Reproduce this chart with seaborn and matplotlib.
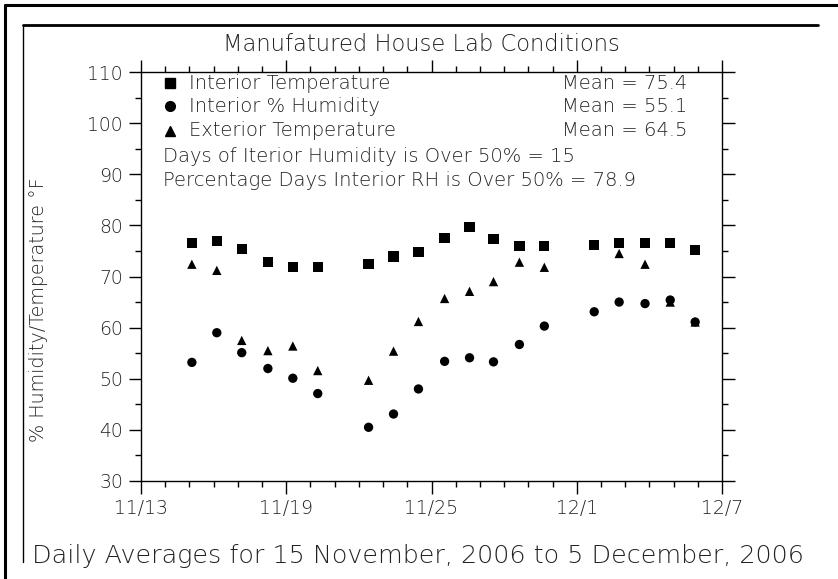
import matplotlib
matplotlib.use("Agg")
import matplotlib.pyplot as plt
import pandas as pd
import seaborn as sns
from matplotlib.lines import Line2D
from matplotlib.ticker import MultipleLocator

# days counted from 11/13
days = [2.10, 3.13, 4.16, 5.24, 6.27, 7.30, 9.40, 10.43, 11.46, 12.54,
        13.57, 14.56, 15.63, 16.66, 18.72, 19.75, 20.82, 21.86, 22.89]
interior_temp = [76.5, 77.0, 75.4, 72.9, 71.9, 71.8, 72.5, 73.9, 74.8, 77.6,
                 79.7, 77.4, 76.0, 76.0, 76.1, 76.6, 76.5, 76.5, 75.2]
interior_rh = [53.2, 59.0, 55.1, 52.0, 50.1, 47.1, 40.5, 43.1, 48.0, 53.4,
               54.1, 53.3, 56.7, 60.3, 63.1, 65.0, 64.7, 65.4, 61.1]
exterior_temp = [72.4, 71.2, 57.5, 55.5, 56.4, 51.6, 49.7, 55.4, 61.2, 65.7,
                 67.1, 69.0, 72.8, 71.8, 76.1, 74.5, 72.4, 65.0, 61.1]

xtick_pos = [0, 6, 12, 18, 24]
xtick_labels = ["11/13", "11/19", "11/25", "12/1", "12/7"]

series_names = ["Interior Temperature", "Interior % Humidity", "Exterior Temperature"]
series_means = ["Mean = 75.4", "Mean = 55.1", "Mean = 64.5"]
extra_lines = ["Days of Iterior Humidity is Over 50% = 15",
               "Percentage Days Interior RH is Over 50% = 78.9"]

df = pd.DataFrame({
    "day": days * 3,
    "value": interior_temp + interior_rh + exterior_temp,
    "series": [series_names[0]] * len(days) + [series_names[1]] * len(days)
              + [series_names[2]] * len(days),
})

sns.set_style("ticks")
plt.rcParams["font.family"] = ["DejaVu Sans"]

fig = plt.figure(figsize=(8.38, 5.79), dpi=100)
ax = fig.add_axes([0.1683, 0.1693, 0.6933, 0.7063])

markers = {series_names[0]: "s", series_names[1]: "o", series_names[2]: "^"}
sizes = {series_names[0]: 55, series_names[1]: 45, series_names[2]: 45}
for name in series_names:
    sns.scatterplot(data=df[df["series"] == name], x="day", y="value",
                    marker=markers[name], s=sizes[name], color="black",
                    edgecolor="none", legend=False, ax=ax, clip_on=False)

ax.set_xlim(0, 24)
ax.set_ylim(30, 110)
ax.set_xticks(xtick_pos, xtick_labels)
ax.xaxis.set_minor_locator(MultipleLocator(1))
ax.yaxis.set_major_locator(MultipleLocator(10))
ax.yaxis.set_minor_locator(MultipleLocator(5))
ax.tick_params(which="both", direction="out", top=True, right=True,
               labeltop=False, labelright=False, color="black")
ax.tick_params(which="major", length=9, width=1, labelsize=13.5, pad=4,
               labelcolor="#222222")
ax.tick_params(which="minor", length=4.5, width=1)
for lab in ax.get_xticklabels() + ax.get_yticklabels():
    lab.set_fontweight("light")
for sp in ax.spines.values():
    sp.set_linewidth(1)
    sp.set_color("black")
ax.set_xlabel("")
ax.set_ylabel("% Humidity/Temperature °F", fontsize=13.8, fontweight="light",
              color="#222222")
ax.yaxis.set_label_coords(-0.16, 0.42)

txt_kw = dict(fontsize=14, fontweight="light", color="#222222")

# in-plot legend block
rows_y = [0.972, 0.916, 0.856]
for name, yy, mean in zip(series_names, rows_y, series_means):
    ax.plot([0.05], [yy], marker=markers[name], color="black",
            ms=7.5 if name == series_names[0] else 7,
            ls="none", transform=ax.transAxes, clip_on=False)
    ax.text(0.082, yy, name, transform=ax.transAxes, va="center", ha="left",
            **txt_kw)
    ax.text(0.94, yy, mean, transform=ax.transAxes, va="center", ha="right",
            **txt_kw)
for txt, yy in zip(extra_lines, [0.793, 0.734]):
    ax.text(0.038, yy, txt, transform=ax.transAxes, va="center", ha="left",
            **txt_kw)

fig.text(0.503, 0.924, "Manufatured House Lab Conditions", ha="center",
         va="center", fontsize=16.3, fontweight="light", color="#222222")
fig.text(0.499, 0.04, "Daily Averages for 15 November, 2006 to 5 December, 2006",
         ha="center", va="center", fontsize=18.3, fontweight="light",
         color="#222222")

# page frame lines around the figure
fig.add_artist(Line2D([0.006, 0.006], [0.0, 0.991], color="black", lw=2.2,
                      transform=fig.transFigure))
fig.add_artist(Line2D([0.006, 1.0], [0.991, 0.991], color="black", lw=2.2,
                      transform=fig.transFigure))
fig.add_artist(Line2D([0.027, 0.976], [0.957, 0.957], color="black", lw=2,
                      transform=fig.transFigure))
fig.add_artist(Line2D([0.027, 0.027], [0.957, 0.03], color="black", lw=1,
                      transform=fig.transFigure))

fig.savefig("out.png", dpi=100)
